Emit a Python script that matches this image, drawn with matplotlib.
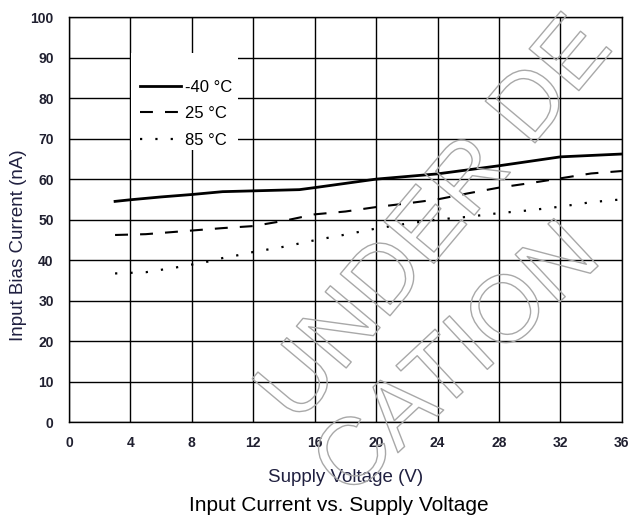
import numpy as np
import matplotlib.pyplot as plt
import matplotlib.patheffects as pe
from matplotlib.patches import Rectangle

plt.rcParams['font.family'] = ['Liberation Sans', 'DejaVu Sans']

# data
v_cold = [3, 4, 6, 8, 10, 12, 15, 16, 20, 24, 28, 32, 36]
i_cold = [54.5, 54.9, 55.6, 56.2, 56.9, 57.1, 57.4, 57.9, 60.0, 61.3, 63.3, 65.5, 66.2]

v_room = [3, 5, 8, 10, 12, 14, 16, 18, 20, 22, 24, 26, 28, 30, 32, 34, 36]
i_room = [46.2, 46.4, 47.3, 47.9, 48.4, 49.7, 51.3, 52.0, 53.1, 54.0, 55.0, 56.5, 57.9, 59.0, 60.2, 61.4, 62.0]

v_hot = [3, 5, 6, 7, 8, 9, 10, 11, 12, 14, 16, 18, 20, 22, 24, 26, 28, 30, 32, 34, 36]
i_hot = [36.7, 37.0, 37.6, 38.2, 38.9, 39.6, 40.5, 41.2, 42.0, 43.3, 44.9, 46.3, 47.8, 49.0, 50.0, 50.7, 51.6, 52.3, 53.2, 54.3, 55.0]

labels = ['-40 °C', '25 °C', '85 °C']
x_ticks = [0, 4, 8, 12, 16, 20, 24, 28, 32, 36]
y_ticks = [0, 10, 20, 30, 40, 50, 60, 70, 80, 90, 100]

fig = plt.figure(figsize=(6.29, 5.21), dpi=100)
ax = fig.add_axes([0.1097, 0.19, 0.879, 0.777])

ax.plot(v_cold, i_cold, color='black', lw=2.0, label=labels[0], zorder=4)
ax.plot(v_room, i_room, color='black', lw=1.5, linestyle=(0, (6.2, 5.8)), label=labels[1], zorder=4)
ax.plot(v_hot, i_hot, color='black', lw=1.6, linestyle=(0, (1, 5.9)), label=labels[2], zorder=4)

ax.set_xlim(0, 36)
ax.set_ylim(0, 100)
ax.set_xticks(x_ticks)
ax.set_yticks(y_ticks)
ax.tick_params(length=0, labelsize=10, colors='#202030')
ax.tick_params(axis='x', pad=10)
ax.tick_params(axis='y', pad=11)
for lab in ax.get_xticklabels() + ax.get_yticklabels():
    lab.set_fontweight('bold')
ax.grid(True, color='black', lw=1.0)
ax.set_axisbelow(True)
for s in ax.spines.values():
    s.set_color('black')
    s.set_linewidth(1.0)

ax.set_xlabel('Supply Voltage (V)', fontsize=13.5, color='#202040', labelpad=14)
ax.set_ylabel('Input Bias Current (nA)', fontsize=13.5, color='#202040')
ax.yaxis.set_label_coords(-0.076, 0.437)
fig.text(0.538, 0.029, 'Input Current vs. Supply Voltage', ha='center', va='center', fontsize=15)

# white box behind the legend hides the grid
ax.add_patch(Rectangle((0.112, 0.672), 0.194, 0.239, transform=ax.transAxes,
                       facecolor='white', edgecolor='none', zorder=3))
ax.legend(loc='upper left', bbox_to_anchor=(0.128, 0.846), frameon=False, fontsize=12,
          handlelength=2.46, handletextpad=0.24, labelspacing=0.70, borderpad=0,
          borderaxespad=0)

# outlined watermark
wm = dict(fontsize=68, color='none', ha='center', va='center',
          path_effects=[pe.Stroke(linewidth=1.0, foreground='#a8a8a8')], zorder=2)
fig.text(0.695, 0.575, 'UNDER DE', rotation=50, **wm)
fig.text(0.73, 0.305, 'CATION', rotation=43, **wm)

fig.savefig('out.png', dpi=100)
